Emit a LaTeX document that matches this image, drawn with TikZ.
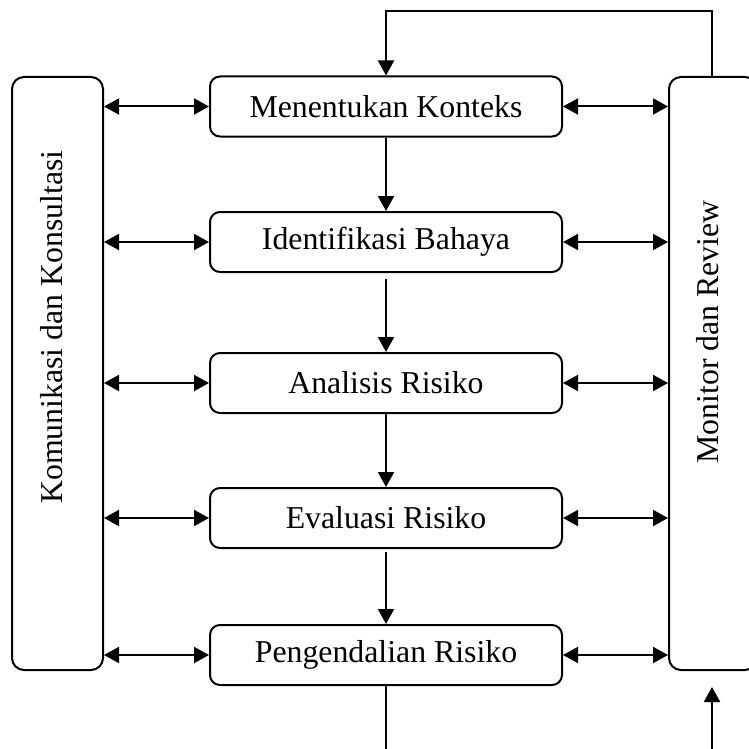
\documentclass[tikz,border=0pt]{standalone}
\usepackage{fontspec}
\setmainfont{Liberation Serif}
\usetikzlibrary{arrows.meta,calc}
\begin{document}
\begin{tikzpicture}[x=0.5pt,y=-0.5pt,
  every node/.style={font=\fontsize{15.9}{19}\selectfont},
  stepbox/.style={draw,line width=1pt,rounded corners=5pt,minimum width=176pt,minimum height=30pt,inner sep=0pt},
  sidebox/.style={draw,line width=1pt,rounded corners=6pt,inner sep=0pt},
  lab/.style={inner sep=0pt,rotate=90},
  conn/.style={line width=1pt},
  arr/.style={conn,-{Triangle[length=7.5pt,width=8pt]}},
  darr/.style={conn,{Triangle[length=7.5pt,width=8pt]}-{Triangle[length=7.5pt,width=8pt]}}]
\clip (0,0) rectangle (749,749);
\fill[white] (0,0) rectangle (749,749);
% side boxes
\node[sidebox,minimum width=45.5pt,minimum height=296.5pt] (kom) at (57.5,373.5) {};
\node[lab] at (52,327) {Komunikasi dan Konsultasi};
\node[sidebox,minimum width=44pt,minimum height=296.5pt] (mon) at (713,373.5) {};
\node[lab] at (708,332) {Monitor dan Review};
% steps
\node[stepbox] (ctx) at (386,106.5) {Menentukan Konteks};
\node[stepbox] (idb) at (386,242) {Identifikasi Bahaya};
\node[stepbox] (ana) at (386,383) {Analisis Risiko};
\node[stepbox] (eva) at (386,518) {Evaluasi Risiko};
\node[stepbox] (ctl) at (386,655) {Pengendalian Risiko};
% vertical flow
\draw[arr] (ctx.south) -- (idb.north);
\draw[arr] ($(idb.south)+(0,6)$) -- (ana.north);
\draw[arr] (ana.south) -- (eva.north);
\draw[arr] ($(eva.south)+(0,3)$) -- (ctl.north);
\coordinate (bot) at (386,760);
\draw[conn] (ctl.south) -- (bot);
% side double arrows
\foreach \n in {ctx,idb,ana,eva,ctl}{
  \draw[darr] (kom.east |- \n.west) -- (\n.west);
  \draw[darr] (\n.east) -- (mon.west |- \n.east);
}
% feedback loop
\coordinate (top) at (0,11);
\coordinate (mr) at (712,77);
\draw[arr] (mr) -- (mr |- top) -| (ctx.north);
\coordinate (mb) at (712,687);
\coordinate (mbb) at (712,760);
\draw[arr] (mbb) -- (mb);
\end{tikzpicture}
\end{document}
